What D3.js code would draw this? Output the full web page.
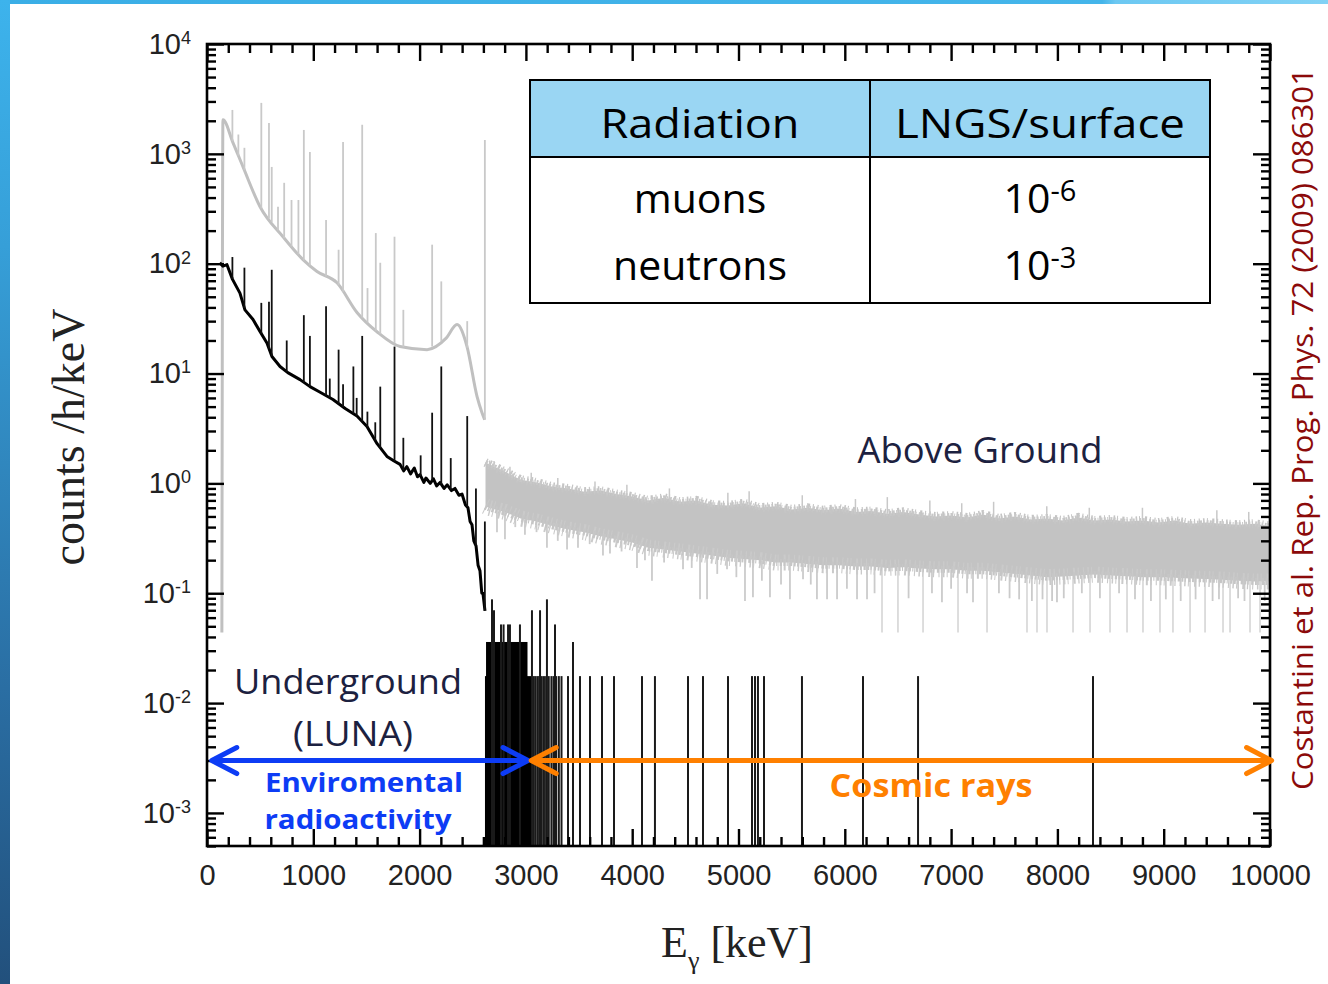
<!DOCTYPE html>
<html>
<head>
<meta charset="utf-8">
<style>
  body { margin: 0; background: #fff; }
  svg { display: block; }
  .axis path { display: none; }
  .axis line { stroke: #000; stroke-width: 2.4; }
  .axis text { font-family: "Liberation Sans", Arial, sans-serif; font-size: 29px; fill: #222; }
  .note { font-family: "Open Sans", sans-serif; }
</style>
<script src="https://cdn.jsdelivr.net/npm/d3@7"></script>
</head>
<body>
<div id="chart"></div>
<script>
// ---- data (energy in keV, counts /h/keV) ----

// above ground spectrum, continuum below the 2614 keV line
var agE   = [140, 150, 245, 339, 499, 715, 903, 1035, 1223, 1411, 1599, 1816, 2070, 2250, 2352, 2446, 2540, 2587, 2612];
var agVal = [0.044, 2040, 1260, 760, 330, 176, 109, 85, 67, 36, 24, 17.6, 16.5, 21, 27.9, 17.6, 6.2, 4.4, 3.8];

// above ground gamma lines [keV, top]
var agPeaks = [[239, 2510], [295, 1500], [352, 1135], [511, 2910], [583, 1910], [609, 760], [668, 330], [726, 545],
               [795, 380], [860, 380], [911, 1650], [968, 1040], [1120, 250], [1238, 134], [1280, 1285], [1460, 1840],
               [1510, 60], [1588, 190], [1630, 102], [1764, 176], [1847, 38], [2118, 149], [2204, 69], [2448, 30],
               [2614, 1340]];

// above ground noisy band above 2.6 MeV
var agBandE  = [2620, 2650, 2800, 2950, 3100, 3250, 3400, 3550, 3700, 3850, 4000, 4150, 4300, 4450, 4600, 4750,
                4900, 5050, 5200, 5350, 5500, 5650, 5800, 5950, 6100, 6250, 6400, 6550, 6700, 6850, 7000, 7150,
                7300, 7450, 7600, 7750, 7900, 8050, 8200, 8350, 8500, 8650, 8800, 8950, 9100, 9250, 9400, 9550,
                9700, 9850, 10000];
var agBandHi = [1.55, 1.50, 1.28, 1.08, 1.02, 0.93, 0.90, 0.84, 0.86, 0.80, 0.76, 0.70, 0.74, 0.68, 0.70, 0.64,
                0.63, 0.66, 0.60, 0.62, 0.58, 0.60, 0.57, 0.59, 0.55, 0.56, 0.53, 0.55, 0.52, 0.50, 0.51, 0.49,
                0.52, 0.48, 0.50, 0.47, 0.48, 0.46, 0.49, 0.46, 0.47, 0.45, 0.46, 0.44, 0.46, 0.43, 0.44, 0.43,
                0.42, 0.43, 0.41];
var agBandLo = [0.62, 0.60, 0.55, 0.48, 0.45, 0.41, 0.38, 0.36, 0.33, 0.31, 0.29, 0.26, 0.25, 0.24, 0.23, 0.22,
                0.21, 0.205, 0.20, 0.19, 0.19, 0.185, 0.18, 0.18, 0.175, 0.175, 0.17, 0.172, 0.168, 0.165, 0.165, 0.16,
                0.16, 0.155, 0.15, 0.145, 0.14, 0.142, 0.145, 0.148, 0.145, 0.143, 0.14, 0.14, 0.138, 0.136, 0.135, 0.133,
                0.13, 0.128, 0.128];

// channels dipping below the band [keV, value]
var agDips = [[2728, 0.36], [2803, 0.31], [2900, 0.40], [2991, 0.34], [3100, 0.36], [3198, 0.26], [3300, 0.30],
              [3387, 0.25], [3490, 0.26], [3600, 0.28], [3725, 0.22], [3791, 0.23], [3900, 0.24], [4045, 0.17],
              [4120, 0.20], [4186, 0.13], [4300, 0.19], [4478, 0.165], [4560, 0.17], [4638, 0.088], [4704, 0.088],
              [4800, 0.15], [4892, 0.165], [4980, 0.14], [5061, 0.085], [5136, 0.092], [5220, 0.13], [5296, 0.092],
              [5400, 0.12], [5484, 0.088], [5607, 0.134], [5680, 0.12], [5738, 0.088], [5833, 0.088], [5927, 0.088],
              [6020, 0.11], [6115, 0.088], [6209, 0.088], [6280, 0.10], [6350, 0.044], [6500, 0.044], [6600, 0.09],
              [6736, 0.044], [6820, 0.10], [6914, 0.083], [7000, 0.11], [7065, 0.044], [7150, 0.10], [7206, 0.083],
              [7338, 0.044], [7450, 0.10], [7550, 0.09], [7640, 0.088], [7714, 0.044], [7760, 0.085], [7808, 0.044],
              [7860, 0.088], [7902, 0.044], [7950, 0.085], [7996, 0.083], [8060, 0.09], [8147, 0.044], [8230, 0.10],
              [8307, 0.044], [8400, 0.09], [8495, 0.044], [8580, 0.10], [8655, 0.044], [8730, 0.088], [8805, 0.044],
              [8880, 0.085], [8965, 0.044], [9020, 0.088], [9087, 0.044], [9160, 0.085], [9248, 0.044], [9300, 0.088],
              [9389, 0.044], [9460, 0.085], [9520, 0.088], [9558, 0.044], [9624, 0.044], [9700, 0.09], [9760, 0.085],
              [9812, 0.044], [9906, 0.044], [9950, 0.085]];

// channels sticking out above the band
var agSpikes = [[2660, 1.62], [2700, 1.6], [2850, 1.42], [3050, 1.25], [3300, 1.12], [3650, 1.04], [3950, 0.97],
                [4350, 0.9], [4900, 0.82], [5100, 0.85], [5600, 0.78], [6100, 0.72], [6400, 0.75], [6800, 0.70],
                [7100, 0.66], [7400, 0.68], [7900, 0.62], [8300, 0.60], [8800, 0.60], [9500, 0.57], [9800, 0.55]];

// underground (LUNA) spectrum, continuum
var ugE   = [120, 150, 188, 240, 310, 357, 433, 500, 564, 611, 687, 760, 875, 969, 1060, 1185, 1300, 1411, 1505,
             1600, 1693, 1760, 1816, 1850, 1880, 1915, 1950, 1980, 2004, 2040, 2060, 2100, 2130, 2160, 2192, 2230,
             2260, 2300, 2333, 2370, 2399, 2430, 2455, 2475, 2493, 2510, 2531, 2550, 2568, 2585, 2596, 2615];
var ugVal = [102, 95, 98, 72, 54, 38, 31, 24, 19, 14.3, 11.6, 10.2, 8.8, 7.6, 6.8, 5.8, 4.8, 4.1, 3.3,
             2.3, 1.76, 1.6, 1.49, 1.3, 1.42, 1.22, 1.38, 1.15, 1.2, 1.02, 1.12, 1.0, 1.1, 0.95, 1.02, 0.9,
             0.97, 0.86, 0.9, 0.78, 0.8, 0.64, 0.6, 0.45, 0.42, 0.3, 0.27, 0.18, 0.16, 0.1, 0.1, 0.069];

// underground gamma lines [keV, top]
var ugPeaks = [[239, 115], [352, 92], [511, 44], [583, 45], [609, 88], [750, 20], [911, 34], [968, 22],
               [1120, 41], [1155, 9], [1238, 16.5], [1280, 8], [1377, 11.6], [1408, 6], [1460, 22], [1509, 4.5],
               [1583, 3.6], [1630, 7.6], [1764, 17.6], [1847, 2.6], [2010, 1.8], [2118, 4.4], [2204, 11.6],
               [2293, 1.7], [2448, 4.1], [2530, 0.9], [2614, 0.45]];

// underground above 2.6 MeV: filled count levels [from keV, to keV, value]
var ugBlocks = [[2615, 3060, 0.0176], [2625, 3015, 0.036]];

// underground single channels [keV, value]
var ugLines = [[2681, 0.088], [2700, 0.07], [2766, 0.052], [2790, 0.052], [2832, 0.052], [2850, 0.052], [2944, 0.052],
               [3057, 0.07], [3133, 0.07], [3198, 0.088], [3274, 0.052], [3443, 0.036],
               [3075, 0.0176], [3092, 0.0176], [3110, 0.0176], [3125, 0.0176], [3150, 0.0176], [3170, 0.0176],
               [3190, 0.0176], [3215, 0.0176], [3240, 0.0176], [3260, 0.0176], [3285, 0.0176], [3310, 0.0176],
               [3335, 0.0176], [3396, 0.0176], [3509, 0.0176], [3603, 0.0176], [3716, 0.0176], [3829, 0.0176],
               [4092, 0.0176], [4214, 0.0176], [4525, 0.0176], [4666, 0.0176], [4901, 0.0176], [5127, 0.0176],
               [5155, 0.0176], [5183, 0.0176], [5240, 0.0176], [5597, 0.0176], [6171, 0.0176], [6689, 0.0176],
               [8335, 0.0176]];

// axis ticks
var xMajor = [0, 1000, 2000, 3000, 4000, 5000, 6000, 7000, 8000, 9000, 10000];
var yMajor = [1e-3, 1e-2, 1e-1, 1e0, 1e1, 1e2, 1e3, 1e4];

// table
var tableHead = ["Radiation", "LNGS/surface"];
var tableRows = [["muons", "-6"], ["neutrons", "-3"]];

// ---- drawing ----
var W = 1328, H = 984;
var plotL = 207, plotR = 1270, plotT = 44, plotB = 846;

var svg = d3.select("#chart").append("svg").attr("width", W).attr("height", H);
var defs = svg.append("defs");

var gl = defs.append("linearGradient").attr("id", "edgeL").attr("x1", 0).attr("y1", 0).attr("x2", 0).attr("y2", 1);
gl.append("stop").attr("offset", 0).attr("stop-color", "#3db3ec");
gl.append("stop").attr("offset", 0.25).attr("stop-color", "#369fd8");
gl.append("stop").attr("offset", 0.7).attr("stop-color", "#2a6ea3");
gl.append("stop").attr("offset", 1).attr("stop-color", "#22507c");
var gt = defs.append("linearGradient").attr("id", "edgeT");
gt.append("stop").attr("offset", 0).attr("stop-color", "#3aaee6");
gt.append("stop").attr("offset", 0.83).attr("stop-color", "#44b5ea");
gt.append("stop").attr("offset", 0.84).attr("stop-color", "#6cc8f2");
gt.append("stop").attr("offset", 1).attr("stop-color", "#82d2f5");

defs.append("clipPath").attr("id", "plotClip")
    .append("rect").attr("x", plotL).attr("y", plotT).attr("width", plotR - plotL).attr("height", plotB - plotT);

svg.append("rect").attr("x", 0).attr("y", 0).attr("width", W).attr("height", 4).attr("fill", "url(#edgeT)");
svg.append("rect").attr("x", 0).attr("y", 0).attr("width", 10).attr("height", H).attr("fill", "url(#edgeL)");

var x = d3.scaleLinear().domain([0, 10000]).range([plotL, plotR]);
var y = d3.scaleLog().domain([5e-4, 1e4]).range([plotB, plotT]);

function baseAt(E, es, vs) {
    var i = d3.bisectRight(es, E);
    if (i <= 0) return vs[0];
    if (i >= es.length) return vs[vs.length - 1];
    var t = (E - es[i - 1]) / (es[i] - es[i - 1]);
    return Math.pow(10, Math.log10(vs[i - 1]) + t * (Math.log10(vs[i]) - Math.log10(vs[i - 1])));
}

function vlines(g, data, base, color, width) {
    g.append("g").selectAll("line").data(data).enter().append("line")
        .attr("x1", function(d) { return x(d[0]); }).attr("x2", function(d) { return x(d[0]); })
        .attr("y1", base).attr("y2", function(d) { return y(d[1]); })
        .attr("stroke", color).attr("stroke-width", width);
}

var plot = svg.append("g").attr("clip-path", "url(#plotClip)");
var line = d3.line().x(function(d) { return x(d[0]); }).y(function(d) { return y(d[1]); });

// above ground (grey)
vlines(plot, agDips, function(d) { return y(baseAt(d[0], agBandE, agBandLo)); },
       function(d) { return d[1] < 0.06 ? "#dadada" : "#cbcbcb"; }, 1.8);

var band = d3.area()
    .x(function(d, i) { return x(agBandE[i]); })
    .y0(function(d, i) { return y(agBandLo[i]); })
    .y1(function(d, i) { return y(agBandHi[i]); });
plot.append("path").datum(agBandE).attr("d", band).attr("fill", "#c3c3c3");

// ragged channel-by-channel edges of the band (irregular dash rhythm)
plot.append("path").datum(d3.zip(agBandE, agBandHi)).attr("d", line)
    .attr("fill", "none").attr("stroke", "#c5c5c5").attr("stroke-width", 9)
    .attr("stroke-dasharray", "1.2,3.1,1.6,1.9,1,4.3,2.2,2.7,1.1,3.6");
plot.append("path").datum(d3.zip(agBandE, agBandHi)).attr("d", line)
    .attr("fill", "none").attr("stroke", "#c8c8c8").attr("stroke-width", 5)
    .attr("stroke-dasharray", "2.1,1.4,1,2.2,1.8,1.2");
plot.append("path").datum(d3.zip(agBandE, agBandLo)).attr("d", line)
    .attr("fill", "none").attr("stroke", "#cacaca").attr("stroke-width", 16)
    .attr("stroke-dasharray", "1.1,3.4,1.5,2.2,1,5.1,2,2.6,1.3,4");
plot.append("path").datum(d3.zip(agBandE, agBandLo)).attr("d", line)
    .attr("fill", "none").attr("stroke", "#c6c6c6").attr("stroke-width", 7)
    .attr("stroke-dasharray", "1.9,1.3,1.1,2.4,2.3,1.5");

vlines(plot, agSpikes, function(d) { return y(baseAt(d[0], agBandE, agBandHi)); }, "#c8c8c8", 1.5);

plot.append("path").datum(d3.zip(agE, agVal)).attr("d", line.curve(d3.curveMonotoneX))
    .attr("fill", "none").attr("stroke", "#c0c0c0").attr("stroke-width", 3).attr("stroke-linejoin", "round");
line.curve(d3.curveLinear);

vlines(plot, agPeaks, function(d) { return y(baseAt(d[0], agE, agVal)); }, "#c9c9c9", 1.8);

// underground (black)
plot.append("g").selectAll("rect").data(ugBlocks).enter().append("rect")
    .attr("x", function(d) { return x(d[0]); })
    .attr("width", function(d) { return x(d[1]) - x(d[0]); })
    .attr("y", function(d) { return y(d[2]); })
    .attr("height", function(d) { return plotB - y(d[2]); })
    .attr("fill", "#000");

vlines(plot, ugLines, plotB, "#1a1a1a", 2);

plot.append("path").datum(d3.zip(ugE, ugVal)).attr("d", line)
    .attr("fill", "none").attr("stroke", "#000").attr("stroke-width", 3).attr("stroke-linejoin", "round");

vlines(plot, ugPeaks, function(d) { return y(baseAt(d[0], ugE, ugVal)); }, "#111", 1.8);

// axes: inward ticks on all four sides
var xMinor = d3.range(200, 10000, 200).filter(function(v) { return v % 1000 !== 0; });
var yMinor = y.ticks().filter(function(v) { return Math.abs(Math.log10(v) - Math.round(Math.log10(v))) > 1e-6; });

svg.append("g").attr("class", "axis").attr("transform", "translate(0," + plotB + ")")
    .call(d3.axisBottom(x).tickValues(xMajor).tickSize(-17).tickPadding(18).tickFormat(d3.format("d")));
svg.append("g").attr("class", "axis").attr("transform", "translate(0," + plotB + ")")
    .call(d3.axisBottom(x).tickValues(xMinor).tickSize(-9).tickFormat(""));
svg.append("g").attr("class", "axis").attr("transform", "translate(0," + plotT + ")")
    .call(d3.axisTop(x).tickValues(xMajor).tickSize(-17).tickFormat(""));
svg.append("g").attr("class", "axis").attr("transform", "translate(0," + plotT + ")")
    .call(d3.axisTop(x).tickValues(xMinor).tickSize(-9).tickFormat(""));

svg.append("g").attr("class", "axis").attr("transform", "translate(" + plotL + ",0)")
    .call(d3.axisLeft(y).tickValues(yMajor).tickSize(-17).tickPadding(16))
    .call(function(g) {
        g.selectAll(".tick text").text("10")
         .append("tspan").attr("dy", "-0.55em").attr("font-size", "18px")
         .text(function(d) { return String(Math.round(Math.log10(d))); });
    });
svg.append("g").attr("class", "axis").attr("transform", "translate(" + plotL + ",0)")
    .call(d3.axisLeft(y).tickValues(yMinor).tickSize(-9).tickFormat(""));
svg.append("g").attr("class", "axis").attr("transform", "translate(" + plotR + ",0)")
    .call(d3.axisRight(y).tickValues(yMajor).tickSize(-17).tickFormat(""));
svg.append("g").attr("class", "axis").attr("transform", "translate(" + plotR + ",0)")
    .call(d3.axisRight(y).tickValues(yMinor).tickSize(-9).tickFormat(""));

svg.append("rect").attr("x", plotL).attr("y", plotT).attr("width", plotR - plotL).attr("height", plotB - plotT)
    .attr("fill", "none").attr("stroke", "#000").attr("stroke-width", 2.6);

// axis titles
svg.append("text").attr("transform", "translate(84,437) rotate(-90)")
    .attr("text-anchor", "middle").attr("font-family", "'Liberation Serif', serif")
    .attr("font-size", 46).attr("fill", "#222").text("counts /h/keV");

var xt = svg.append("text").attr("x", 661).attr("y", 957)
    .attr("font-family", "'Liberation Serif', serif").attr("font-size", 44).attr("fill", "#222");
xt.append("tspan").text("E");
xt.append("tspan").attr("dy", 12).attr("font-size", 26).text("γ");
xt.append("tspan").attr("dy", -12).text(" [keV]");

// annotations
var ay = y(0.003);
function arrow(e0, e1, color) {
    var x0 = x(e0), x1 = x(e1);
    svg.append("line").attr("x1", x0).attr("x2", x1).attr("y1", ay).attr("y2", ay)
        .attr("stroke", color).attr("stroke-width", 5);
    [[x0, 1], [x1, -1]].forEach(function(t) {
        svg.append("path")
            .attr("d", "M" + (t[0] + t[1] * 25) + "," + (ay - 13) + "L" + t[0] + "," + ay + "L" + (t[0] + t[1] * 25) + "," + (ay + 13))
            .attr("fill", "none").attr("stroke", color).attr("stroke-width", 5)
            .attr("stroke-linecap", "round").attr("stroke-linejoin", "round");
    });
}
arrow(45, 3020, "#0d3cf5");
arrow(3050, 10015, "#ff8000");

function note(txt, cx, by, size, w, color, weight) {
    svg.append("text").attr("class", "note").attr("x", cx).attr("y", by)
        .attr("text-anchor", "middle").attr("font-size", size).attr("fill", color)
        .attr("font-weight", weight || 400)
        .attr("textLength", w).attr("lengthAdjust", "spacingAndGlyphs").text(txt);
}
note("Above Ground", 980, 463, 36, 245, "#1c2140");
note("Underground", 348, 694, 35, 228, "#1c2140");
note("(LUNA)", 353, 746, 35, 120, "#1c2140");
note("Enviromental", 364, 792, 27, 198, "#0d3cf5", 700);
note("radioactivity", 358, 829, 27, 187, "#0d3cf5", 700);
note("Cosmic rays", 931, 797, 33, 203, "#ff8000", 700);

svg.append("text").attr("class", "note").attr("transform", "translate(1313,790) rotate(-90)")
    .attr("font-size", 29).attr("fill", "#8b0a0a")
    .attr("textLength", 722).attr("lengthAdjust", "spacingAndGlyphs")
    .text("Costantini et al. Rep. Prog. Phys. 72 (2009) 086301");

// table
var tb = svg.append("g");
tb.append("rect").attr("x", 530).attr("y", 80).attr("width", 680).attr("height", 223).attr("fill", "#fff");
tb.append("rect").attr("x", 530).attr("y", 80).attr("width", 680).attr("height", 77).attr("fill", "#9ad6f3");
tb.append("line").attr("x1", 530).attr("x2", 1210).attr("y1", 157).attr("y2", 157).attr("stroke", "#000").attr("stroke-width", 2);
tb.append("line").attr("x1", 870).attr("x2", 870).attr("y1", 80).attr("y2", 303).attr("stroke", "#000").attr("stroke-width", 2);
tb.append("rect").attr("x", 530).attr("y", 80).attr("width", 680).attr("height", 223)
    .attr("fill", "none").attr("stroke", "#000").attr("stroke-width", 2);

var colX = [700, 1040];
tb.selectAll("text.head").data(tableHead).enter().append("text").attr("class", "note head")
    .attr("x", function(d, i) { return colX[i]; }).attr("y", 138)
    .attr("text-anchor", "middle").attr("font-size", 41).attr("fill", "#000")
    .attr("textLength", function(d, i) { return i === 0 ? 199 : 290; })
    .attr("lengthAdjust", "spacingAndGlyphs")
    .text(function(d) { return d; });

var rowY = [213, 280];
tableRows.forEach(function(r, i) {
    tb.append("text").attr("class", "note").attr("x", colX[0]).attr("y", rowY[i])
        .attr("text-anchor", "middle").attr("font-size", 41).attr("fill", "#000").text(r[0]);
    var t = tb.append("text").attr("class", "note").attr("x", colX[1]).attr("y", rowY[i])
        .attr("text-anchor", "middle").attr("font-size", 41).attr("fill", "#000");
    t.append("tspan").text("10");
    t.append("tspan").attr("dy", -12).attr("font-size", 29).text(r[1]);
});
</script>
</body>
</html>
